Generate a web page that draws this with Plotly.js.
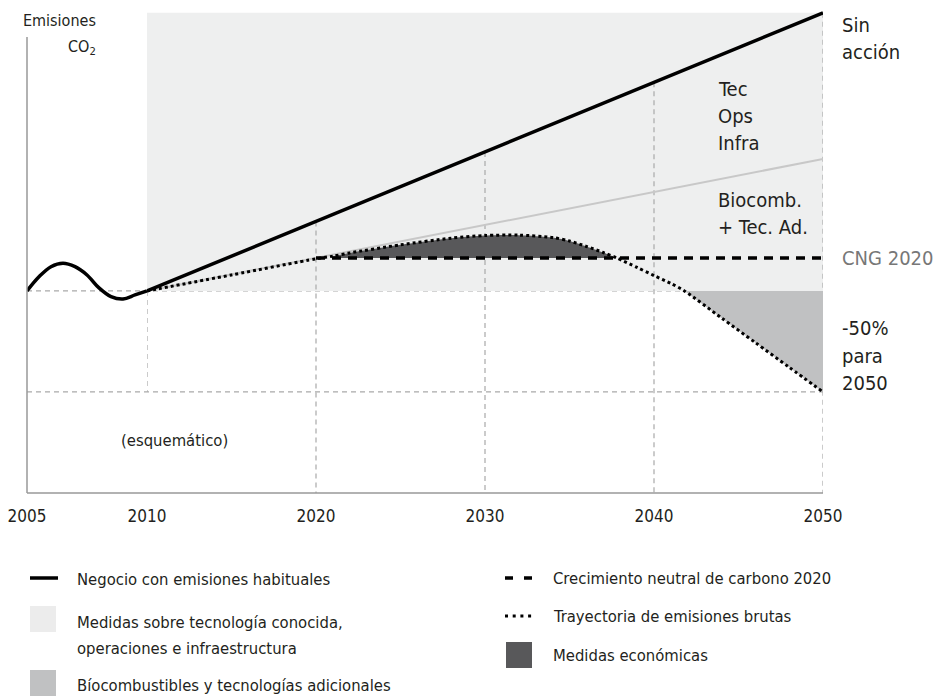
<!DOCTYPE html>
<html>
<head>
<meta charset="utf-8">
<script src="https://cdn.plot.ly/plotly-3.0.1.min.js"></script>
<style>html,body{margin:0;padding:0;background:#fff;}#chart{width:935px;height:696px;}</style>
</head>
<body>
<div id="chart"></div>
<script>
// ---- data ----
const histYears  = [2005, 2005.5, 2006, 2006.5, 2007, 2007.5, 2008, 2008.5, 2009, 2009.5, 2010];
const histValues = [100, 107, 112, 113.7, 112, 107.9, 101.5, 97.2, 96, 98, 100];
const bauYears   = [2010, 2050];
const bauValues  = [100, 237.6];
const bioYears   = [2010, 2050];
const bioValues  = [100, 165.3];
const cngYears   = [2020, 2050];
const cngValues  = [116.3, 116.3];
const trajYears  = [2010, 2015, 2020, 2021, 2022, 2025, 2028, 2030, 2032, 2034, 2035, 2036, 2037, 2037.8, 2039, 2040, 2041, 2041.8, 2044, 2046, 2048, 2050];
const trajValues = [100, 107.9, 115.9, 117.2, 118.8, 122.8, 126.1, 127.4, 127.6, 126.4, 124.7, 122.0, 119.0, 116.3, 111.6, 107.6, 103.7, 100, 86.6, 74.4, 62.2, 50];
const baseLevel  = 100;   // 2010 level
const targetLevel = 50;   // -50% by 2050
const econStart = 2021, econEnd = 2037.8;
const bioStart = 2041.8;
const xTickVals = [2010, 2020, 2030, 2040, 2050];
const xTickText = ['2010', '2020', '2030', '2040', '2050'];
const histTickVals = [2005];
const histTickText = ['2005'];

// ---- helpers ----
const W = 935, H = 696, ML = 27, MR = 112, MT = 8, MB = 203;
const PW = W - ML - MR, PH = H - MT - MB;
const px = x => (x - ML) / PW;
const py = y => (H - MB - y) / PH;
function interp(xs, ys, x) {
  for (let i = 0; i < xs.length - 1; i++) {
    if (x >= xs[i] && x <= xs[i + 1]) return ys[i] + (ys[i + 1] - ys[i]) * (x - xs[i]) / (xs[i + 1] - xs[i]);
  }
  return ys[ys.length - 1];
}
const TXT = '#231f20';
const FONT = "'DejaVu Sans Condensed', 'DejaVu Sans', sans-serif";

const econIdx = trajYears.map((y, i) => i).filter(i => trajYears[i] >= econStart && trajYears[i] <= econEnd);
const bioIdx = trajYears.map((y, i) => i).filter(i => trajYears[i] >= bioStart);

const traces = [
  // economic measures fill
  {x: econIdx.map(i => trajYears[i]), y: econIdx.map(() => cngValues[0]), mode: 'lines', line: {width: 0}, hoverinfo: 'skip', showlegend: false},
  {x: econIdx.map(i => trajYears[i]), y: econIdx.map(i => trajValues[i]), mode: 'lines', line: {width: 0, shape: 'spline', smoothing: 0.8}, fill: 'tonexty', fillcolor: '#58585a', hoverinfo: 'skip', showlegend: false},
  // biofuel fill
  {x: bioIdx.map(i => trajYears[i]), y: bioIdx.map(() => baseLevel), mode: 'lines', line: {width: 0}, hoverinfo: 'skip', showlegend: false},
  {x: bioIdx.map(i => trajYears[i]), y: bioIdx.map(i => trajValues[i]), mode: 'lines', line: {width: 0}, fill: 'tonexty', fillcolor: '#c0c1c2', hoverinfo: 'skip', showlegend: false},
  // bio line
  {x: bioYears, y: bioValues, mode: 'lines', line: {color: '#c8c8c8', width: 2}, hoverinfo: 'skip', showlegend: false},
  // CNG dashed
  {x: cngYears, y: cngValues, mode: 'lines', line: {color: '#000', width: 3.5, dash: '9px,7px'}, hoverinfo: 'skip', showlegend: false},
  // trajectory dotted
  {x: trajYears, y: trajValues, mode: 'lines', line: {color: '#000', width: 3, dash: '3px,3px', shape: 'spline', smoothing: 0.8}, hoverinfo: 'skip', showlegend: false},
  // BAU
  {x: bauYears, y: bauValues, mode: 'lines', line: {color: '#000', width: 3.5}, hoverinfo: 'skip', showlegend: false, cliponaxis: false},
  // history
  {x: histYears, y: histValues, xaxis: 'x2', yaxis: 'y', mode: 'lines', line: {color: '#000', width: 3.5, shape: 'spline', smoothing: 1}, hoverinfo: 'skip', showlegend: false, cliponaxis: false}
];

const grid = {color: '#a9a9a9', width: 1.2, dash: '5px,4px'};
const shapes = [
  // light gray area
  {type: 'rect', xref: 'x', yref: 'y', x0: bauYears[0], x1: bauYears[1], y0: baseLevel, y1: bauValues[1], fillcolor: '#eeefef', line: {width: 0}, layer: 'below'},
  // horizontal grid
  {type: 'line', xref: 'paper', yref: 'y', x0: 0, x1: 1, y0: baseLevel, y1: baseLevel, line: grid, layer: 'below'},
  {type: 'line', xref: 'paper', yref: 'y', x0: 0, x1: 1, y0: targetLevel, y1: targetLevel, line: grid, layer: 'below'},
  // vertical grid
  {type: 'line', xref: 'x', yref: 'y', x0: 2010, x1: 2010, y0: baseLevel, y1: targetLevel, line: grid, layer: 'below'},
];
[2020, 2030, 2040, 2050].forEach(yr => {
  shapes.push({type: 'line', xref: 'x', yref: 'y', x0: yr, x1: yr, y0: interp(bauYears, bauValues, yr), y1: 0, line: grid, layer: 'below'});
});
// axis lines
shapes.push({type: 'line', xref: 'paper', yref: 'paper', x0: 0, x1: 0, y0: 0, y1: py(37), line: {color: '#999', width: 1.5}});
shapes.push({type: 'line', xref: 'paper', yref: 'paper', x0: 0, x1: 1, y0: 0, y1: 0, line: {color: '#999', width: 1.5}});
// legend symbols
shapes.push({type: 'line', xref: 'paper', yref: 'paper', x0: px(30), x1: px(58), y0: py(578), y1: py(578), line: {color: '#000', width: 3.5}});
shapes.push({type: 'rect', xref: 'paper', yref: 'paper', x0: px(30), x1: px(56), y0: py(606), y1: py(632), fillcolor: '#ececec', line: {width: 0}});
shapes.push({type: 'rect', xref: 'paper', yref: 'paper', x0: px(30), x1: px(56), y0: py(670), y1: py(696), fillcolor: '#c0c1c2', line: {width: 0}});
shapes.push({type: 'line', xref: 'paper', yref: 'paper', x0: px(505), x1: px(533), y0: py(578), y1: py(578), line: {color: '#000', width: 3.5, dash: '8px,11px'}});
shapes.push({type: 'line', xref: 'paper', yref: 'paper', x0: px(505), x1: px(533), y0: py(616), y1: py(616), line: {color: '#000', width: 3, dash: '3px,4.7px'}});
shapes.push({type: 'rect', xref: 'paper', yref: 'paper', x0: px(506), x1: px(532), y0: py(642), y1: py(668), fillcolor: '#58585a', line: {width: 0}});

function ann(text, x, y, size, anchor, color) {
  return {text: text, xref: 'paper', yref: 'paper', x: px(x), y: py(y), xanchor: anchor || 'left', yanchor: 'middle',
          showarrow: false, font: {size: size, color: color || TXT, family: FONT}};
}
const annotations = [
  ann('Emisiones', 98, 20, 16, 'right'),
  ann('CO<sub>2</sub>', 98, 47, 16, 'right'),
  ann('Sin', 840, 25, 20),
  ann('acción', 840, 52, 20),
  ann('Tec', 716, 89, 20),
  ann('Ops', 716, 116, 20),
  ann('Infra', 716, 143, 20),
  ann('Biocomb.', 716, 200, 20),
  ann('+ Tec. Ad.', 716, 227, 20),
  ann('CNG 2020', 840, 258, 20, 'left', '#777'),
  ann('-50%', 840, 328, 20),
  ann('para', 840, 356, 20),
  ann('2050', 840, 383, 20),
  ann('(esquemático)', 174.5, 440, 16.5, 'center'),
  ann('Negocio con emisiones habituales', 75, 579, 16.5),
  ann('Medidas sobre tecnología conocida,', 75, 622, 16.5),
  ann('operaciones e infraestructura', 75, 648, 16.5),
  ann('Bíocombustibles y tecnologías adicionales', 75, 685, 16.5),
  ann('Crecimiento neutral de carbono 2020', 551, 578, 16.5),
  ann('Trayectoria de emisiones brutas', 551, 616, 16.5),
  ann('Medidas económicas', 551, 655, 16.5)
];

const split = 120 / PW;
const tickFont = {size: 17, color: TXT, family: FONT};
const layout = {
  width: W, height: H,
  margin: {l: ML, r: MR, t: MT, b: MB, pad: 0},
  paper_bgcolor: '#fff', plot_bgcolor: '#fff',
  font: {family: FONT, color: TXT},
  showlegend: false,
  xaxis: {domain: [split, 1], range: [2010, 2050], tickmode: 'array', tickvals: xTickVals, ticktext: xTickText,
          showgrid: false, zeroline: false, showline: false, ticks: '', ticklabelstandoff: 11, tickfont: tickFont, fixedrange: true},
  xaxis2: {domain: [0, split], range: [2005, 2010], anchor: 'y', tickmode: 'array', tickvals: histTickVals, ticktext: histTickText,
           showgrid: false, zeroline: false, showline: false, ticks: '', ticklabelstandoff: 11, tickfont: tickFont, fixedrange: true},
  yaxis: {range: [0, 240], visible: false, fixedrange: true},
  shapes: shapes,
  annotations: annotations
};
Plotly.newPlot('chart', traces, layout, {displayModeBar: false, staticPlot: true});
</script>
</body>
</html>
